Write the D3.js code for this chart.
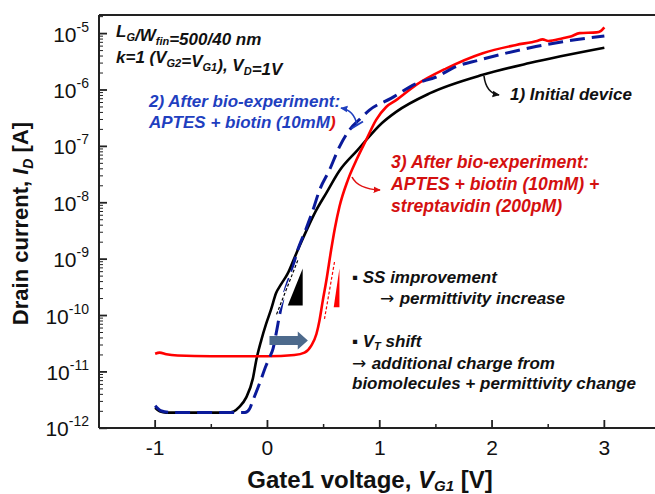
<!DOCTYPE html>
<html>
<head>
<meta charset="utf-8">
<script src="https://cdn.jsdelivr.net/npm/d3@7"></script>
<style>
  body { margin: 0; background: #fff; }
  svg { display: block; font-family: "Liberation Sans", Arial, sans-serif; }
</style>
</head>
<body>
<svg width="655" height="494"></svg>
<script>
// ---- data (V in volts, I in amperes)
const vInitial = [-1.00, -0.96, -0.90, -0.60, -0.35, -0.30, -0.25, -0.19, -0.13, -0.10, -0.056, -0.012, 0.033, 0.077, 0.122, 0.181, 0.225, 0.27, 0.347, 0.43, 0.525, 0.641, 0.80, 1.02, 1.146, 1.443, 1.917, 2.333, 3.0];
const iInitial = [2.3e-12, 2.0e-12, 1.9e-12, 1.9e-12, 1.9e-12, 2.0e-12, 2.4e-12, 3.5e-12, 7.6e-12, 1.6e-11, 3.6e-11, 7.1e-11, 1.3e-10, 2.5e-10, 3.6e-10, 5.6e-10, 8.9e-10, 1.45e-9, 3.2e-9, 7.1e-9, 1.5e-8, 3.7e-8, 8.5e-8, 2.6e-7, 4.1e-7, 8.7e-7, 1.86e-6, 3.0e-6, 5.6e-6];

const vBiotin = [-1.00, -0.95, -0.85, -0.40, -0.20, -0.16, -0.13, -0.071, -0.012, 0.018, 0.05, 0.08, 0.107, 0.136, 0.151, 0.181, 0.211, 0.256, 0.345, 0.403, 0.463, 0.552, 0.641, 0.73, 0.819, 0.908, 1.10, 1.324, 1.502, 1.68, 1.888, 2.126, 2.39, 2.63, 3.0];
const iBiotin = [2.5e-12, 2.05e-12, 1.9e-12, 1.9e-12, 1.9e-12, 2.2e-12, 3.1e-12, 6.2e-12, 1.3e-11, 1.8e-11, 2.6e-11, 5.1e-11, 1.0e-10, 1.9e-10, 2.5e-10, 3.9e-10, 5.5e-10, 1.2e-9, 3.5e-9, 7.2e-9, 1.66e-8, 3.8e-8, 9.8e-8, 1.95e-7, 3.0e-7, 4.4e-7, 7.1e-7, 1.3e-6, 1.7e-6, 2.6e-6, 3.4e-6, 4.5e-6, 5.9e-6, 7.2e-6, 9.1e-6];

const vStrept = [-1.00, -0.96, -0.90, -0.80, -0.50, 0.00, 0.24, 0.33, 0.389, 0.436, 0.463, 0.492, 0.523, 0.567, 0.60, 0.641, 0.715, 0.79, 0.879, 0.968, 1.057, 1.146, 1.324, 1.59, 1.917, 2.214, 2.40, 2.45, 2.50, 2.63, 2.70, 2.78, 2.93, 2.97, 3.0];
const iStrept = [2.1e-11, 2.2e-11, 2.05e-11, 1.95e-11, 1.9e-11, 1.9e-11, 2.0e-11, 2.2e-11, 2.9e-11, 4.7e-11, 8.1e-11, 1.8e-10, 4.0e-10, 1.45e-9, 3.5e-9, 8.5e-9, 2.5e-8, 5.6e-8, 1.3e-7, 2.95e-7, 5.0e-7, 6.6e-7, 1.23e-6, 2.4e-6, 4.5e-6, 6.3e-6, 7.4e-6, 7.9e-6, 7.4e-6, 8.3e-6, 8.9e-6, 1.02e-5, 1.05e-5, 1.12e-5, 1.29e-5];

const xMajorTicks = [-1, 0, 1, 2, 3];
const xMinorTicks = [-0.5, 0.5, 1.5, 2.5];
const yDecades = [-12, -11, -10, -9, -8, -7, -6, -5];

const margins = { left: 99, top: 15, bottom: 66 };

const svg = d3.select('svg');
const svgHeight = 494;
const plotBottom = svgHeight - margins.bottom;

// ---- Escalas
const mapX = d3.scaleLinear().domain([-1.5, 3.5]).range([margins.left, margins.left + 5 * 112.3]);
const mapY = d3.scaleLog().domain([1e-12, Math.pow(10, -4.67)]).range([plotBottom + 0.3, margins.top]);

svg.append('defs').append('clipPath').attr('id', 'plotClip')
  .append('rect')
  .attr('x', margins.left).attr('y', margins.top)
  .attr('width', 600).attr('height', plotBottom - margins.top);

const defs = svg.select('defs');
const addMarker = (id, color) => {
  defs.append('marker')
    .attr('id', id)
    .attr('viewBox', '0 0 10 10')
    .attr('refX', 8).attr('refY', 5)
    .attr('markerWidth', 5).attr('markerHeight', 5)
    .attr('orient', 'auto')
    .append('path')
    .attr('d', 'M0,1 L9,5 L0,9 z')
    .attr('fill', color);
};
addMarker('arrBlack', '#111');
addMarker('arrBlue', '#1f3fbf');
addMarker('arrRed', '#e01010');

// ---- Eixos (frame + ticks pointing inward)
const axisColor = '#222';
const frame = svg.append('g').attr('id', 'frame');
frame.append('line').attr('x1', margins.left).attr('x2', 655).attr('y1', margins.top).attr('y2', margins.top)
  .attr('stroke', axisColor).attr('stroke-width', 2);
frame.append('line').attr('x1', margins.left).attr('x2', 655).attr('y1', plotBottom).attr('y2', plotBottom)
  .attr('stroke', axisColor).attr('stroke-width', 2);
frame.append('line').attr('x1', margins.left).attr('x2', margins.left).attr('y1', margins.top).attr('y2', plotBottom)
  .attr('stroke', axisColor).attr('stroke-width', 2);

frame.selectAll('.xmaj').data(xMajorTicks).join('line')
  .attr('x1', d => mapX(d)).attr('x2', d => mapX(d))
  .attr('y1', plotBottom).attr('y2', plotBottom - 8)
  .attr('stroke', axisColor).attr('stroke-width', 1.8);
frame.selectAll('.xmin').data(xMinorTicks).join('line')
  .attr('class', 'xmin')
  .attr('x1', d => mapX(d)).attr('x2', d => mapX(d))
  .attr('y1', plotBottom).attr('y2', plotBottom - 4)
  .attr('stroke', axisColor).attr('stroke-width', 1.5);

frame.selectAll('.xlab').data(xMajorTicks).join('text')
  .attr('class', 'xlab')
  .attr('x', d => mapX(d)).attr('y', 455)
  .attr('text-anchor', 'middle')
  .style('font-size', '21px').attr('fill', '#111')
  .text(d => d);

const yMinor = [];
yDecades.slice(0, -1).forEach(e => { for (let m = 2; m <= 9; m++) yMinor.push(m * Math.pow(10, e)); });
yMinor.push(2e-5);

frame.selectAll('.ymaj').data(yDecades).join('line')
  .attr('class', 'ymaj')
  .attr('x1', margins.left).attr('x2', margins.left + 8)
  .attr('y1', d => mapY(Math.pow(10, d))).attr('y2', d => mapY(Math.pow(10, d)))
  .attr('stroke', axisColor).attr('stroke-width', 1.8);
frame.selectAll('.ymin').data(yMinor).join('line')
  .attr('class', 'ymin')
  .attr('x1', margins.left).attr('x2', margins.left + 4)
  .attr('y1', d => mapY(d)).attr('y2', d => mapY(d))
  .attr('stroke', axisColor).attr('stroke-width', 1);

const ylab = frame.selectAll('.ylab').data(yDecades).join('text')
  .attr('class', 'ylab')
  .attr('x', 89).attr('y', d => mapY(Math.pow(10, d)) + 8)
  .attr('text-anchor', 'end')
  .style('font-size', '21px').attr('fill', '#111');
ylab.append('tspan').text('10');
ylab.append('tspan').attr('dy', -10).style('font-size', '14px').text(d => '-' + Math.abs(d));

// ---- Títulos dos eixos
const ytitle = svg.append('text')
  .attr('transform', `translate(28, ${(margins.top + plotBottom) / 2 + 2}) rotate(-90)`)
  .attr('text-anchor', 'middle')
  .style('font-size', '22px').style('font-weight', 'bold').attr('fill', '#111');
ytitle.append('tspan').text('Drain current, ');
ytitle.append('tspan').style('font-style', 'italic').text('I');
ytitle.append('tspan').attr('dy', 5).style('font-size', '14px').style('font-style', 'italic').text('D');
ytitle.append('tspan').attr('dy', -5).text(' [A]');

const xtitle = svg.append('text')
  .attr('x', 370).attr('y', 488)
  .attr('text-anchor', 'middle')
  .style('font-size', '24px').style('font-weight', 'bold').attr('fill', '#111');
xtitle.append('tspan').text('Gate1 voltage, ');
xtitle.append('tspan').style('font-style', 'italic').text('V');
xtitle.append('tspan').attr('dy', 3).style('font-size', '15px').style('font-style', 'italic').text('G1');
xtitle.append('tspan').attr('dy', -3).text(' [V]');

// ---- Curvas
const toPoints = (vs, is) => vs.map((v, k) => ({ x: v, y: is[k] }));
const line = d3.line().x(d => mapX(d.x)).y(d => mapY(d.y)).curve(d3.curveMonotoneX);

const curves = svg.append('g').attr('id', 'group').attr('clip-path', 'url(#plotClip)');
curves.append('path').datum(toPoints(vInitial, iInitial))
  .attr('d', line).attr('fill', 'none').attr('stroke', '#000').attr('stroke-width', 2.6);
curves.append('path').datum(toPoints(vStrept, iStrept))
  .attr('d', line).attr('fill', 'none').attr('stroke', '#ff0000').attr('stroke-width', 2.6);
curves.append('path').datum(toPoints(vBiotin, iBiotin))
  .attr('d', line).attr('fill', 'none').attr('stroke', '#0a1a9a').attr('stroke-width', 3)
  .attr('stroke-dasharray', '15,7');

// ---- Anotações (em coordenadas dos dados)
const ann = svg.append('g').attr('id', 'annotations');
const P = (v, i) => [mapX(v), mapY(i)];
const poly = pts => pts.map(p => p.join(',')).join(' ');

// SS triangles with dashed slope lines
const slopeLine = (a, b, color) => {
  ann.append('line')
    .attr('x1', a[0]).attr('y1', a[1]).attr('x2', b[0]).attr('y2', b[1])
    .attr('stroke', '#fff').attr('stroke-width', 2.5);
  ann.append('line')
    .attr('x1', a[0]).attr('y1', a[1]).attr('x2', b[0]).attr('y2', b[1])
    .attr('stroke', color).attr('stroke-width', 1.2).attr('stroke-dasharray', '3,2');
};
slopeLine(P(0.27, 9.5e-10), P(0.077, 1.0e-10), '#000');
ann.append('polygon')
  .attr('points', poly([P(0.314, 6.8e-10), P(0.314, 1.5e-10), P(0.181, 1.5e-10)]))
  .attr('fill', '#000');

slopeLine(P(0.597, 8.9e-10), P(0.508, 8.7e-11), '#ff0000');
ann.append('polygon')
  .attr('points', poly([P(0.641, 6.8e-10), P(0.641, 1.4e-10), P(0.590, 1.4e-10)]))
  .attr('fill', '#ff0000');

// V_T shift arrow
const ay = mapY(3.6e-11);
const ax0 = mapX(0.018), ax1 = mapX(0.27), ax2 = mapX(0.36);
ann.append('polygon')
  .attr('points', poly([[ax0, ay - 4.5], [ax1, ay - 4.5], [ax1, ay - 9], [ax2, ay], [ax1, ay + 9], [ax1, ay + 4.5], [ax0, ay + 4.5]]))
  .attr('fill', '#4d6a8c');

// pointer arrows
ann.append('path')
  .attr('d', 'M484,76 Q486,93 499,95')
  .attr('fill', 'none').attr('stroke', '#111').attr('stroke-width', 1.6)
  .attr('marker-end', 'url(#arrBlack)');
ann.append('path')
  .attr('d', 'M357,125 Q354,110 341,108')
  .attr('fill', 'none').attr('stroke', '#1f3fbf').attr('stroke-width', 1.6)
  .attr('marker-end', 'url(#arrBlue)');
ann.append('line')
  .attr('x1', 351.5).attr('y1', 128.5).attr('x2', 363).attr('y2', 121.5)
  .attr('stroke', '#1f3fbf').attr('stroke-width', 2);
ann.append('path')
  .attr('d', 'M352,177 Q358,189 380,190')
  .attr('fill', 'none').attr('stroke', '#e01010').attr('stroke-width', 1.6)
  .attr('marker-end', 'url(#arrRed)');

// ---- Textos
const label = (x, y, color, size) => ann.append('text')
  .attr('x', x).attr('y', y).attr('fill', color)
  .style('font-size', size + 'px').style('font-weight', 'bold').style('font-style', 'italic');
const sub = (t, s, txt) => { t.append('tspan').attr('dy', 4).style('font-size', s + 'px').text(txt); t.append('tspan').attr('dy', -4).text(''); };
const arrow = t => t.append('tspan')
  .style('font-family', '"DejaVu Sans", sans-serif').style('font-style', 'normal').style('font-weight', 'normal')
  .text('\u2192 ');

let t = label(116, 37, '#111', 17);
t.append('tspan').text('L');
sub(t, 11, 'G');
t.append('tspan').text('/W');
sub(t, 11, 'fin');
t.append('tspan').text('=500/40 nm');

t = label(116, 63, '#111', 17);
t.append('tspan').text('k=1 (V');
sub(t, 11, 'G2');
t.append('tspan').text('=V');
sub(t, 11, 'G1');
t.append('tspan').text('), V');
sub(t, 11, 'D');
t.append('tspan').text('=1V');

label(149, 107, '#1f3fbf', 17).text('2) After bio-experiment:');
t = label(149, 128, '#1f3fbf', 17);
t.append('tspan').text('APTES + biotin (10mM');
t.append('tspan').attr('fill', '#e01010').text(')');

label(510, 100, '#111', 17).text('1) Initial device');

label(391, 168, '#d41010', 17.6).text('3) After bio-experiment:');
label(391, 190, '#d41010', 17.6).text('APTES + biotin (10mM) +');
label(391, 212, '#d41010', 17.6).text('streptavidin (200pM)');

label(352, 283, '#111', 17).text('\u25AA SS improvement');
t = label(380, 304, '#111', 17);
arrow(t);
t.append('tspan').text('permittivity increase');

t = label(352, 347, '#111', 17);
t.append('tspan').text('\u25AA V');
t.append('tspan').attr('dy', 3).style('font-size', '11px').text('T');
t.append('tspan').attr('dy', -3).text(' shift');
t = label(352, 369, '#111', 17);
arrow(t);
t.append('tspan').text('additional charge from');
label(352, 389, '#111', 17).text('biomolecules + permittivity change');
</script>
</body>
</html>
